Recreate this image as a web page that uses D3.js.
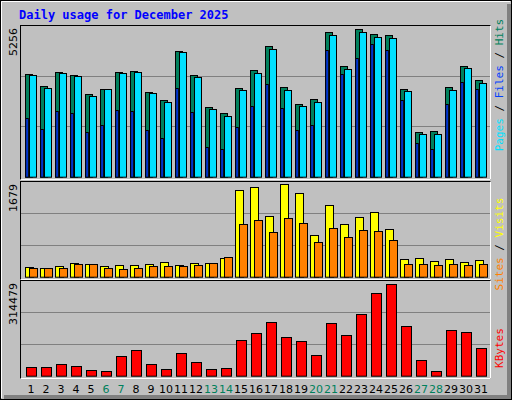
<!DOCTYPE html><html><head><meta charset="utf-8">
<script src="https://cdn.jsdelivr.net/npm/d3@7"></script>
<style>body{margin:0;background:#fff}svg{display:block}text{font-family:"DejaVu Sans",sans-serif}</style></head><body>
<svg id="c" width="512" height="400"></svg>
<script>
const days=d3.range(1,32);
const weekend=[6,7,13,14,20,21,27,28];
const hits=[3650,3222,3734,3615,2937,3115,3734,3769,3008,2735,4471,3615,2473,2259,3151,3793,4649,3187,2580,2759,5149,3936,5256,5077,5041,3115,1581,1617,3187,3936,3436];
const files=[3615,3151,3686,3579,2866,3115,3686,3722,2973,2652,4435,3543,2402,2152,3080,3686,4542,3080,2509,2652,5041,3829,5149,4970,4935,3044,1510,1510,3080,3864,3329];
const pages=[2093,1700,2342,2259,1593,1843,2378,2342,1665,1379,3163,2307,1058,987,1772,2521,3294,2449,1665,1843,4506,3650,4221,4732,4506,2723,1189,975,2580,3365,3115];
const visits=[170,152,188,242,224,188,206,206,224,261,206,242,242,333,1570,1624,1097,1679,1515,752,1297,952,1079,1170,861,315,333,279,315,261,297];
const sites=[152,152,152,224,224,152,133,152,188,188,188,206,242,352,952,1024,806,1061,970,624,879,715,842,824,661,224,224,206,224,206,224];
const kbytes=[28693,28693,39022,32136,18363,14920,66567,87225,39022,21806,76896,45908,21806,25249,121656,145758,183632,131986,118213,70010,180189,138872,211177,283482,314479,169860,52794,14920,156087,149201,94111];
const maxHits=5256,maxVisits=1679,maxKb=314479;

const svg=d3.select("#c");
svg.append("rect").attr("x",0.5).attr("y",0.5).attr("width",511).attr("height",399).attr("fill","#c0c0c0").attr("stroke","#000");
svg.append("path").attr("d","M1.5,398 V1.5 H510").attr("stroke","#fff").attr("fill","none").attr("stroke-width",1);
svg.append("rect").attr("x",507).attr("y",4).attr("width",4).attr("height",395).attr("fill","#808080");
svg.append("rect").attr("x",4).attr("y",395).attr("width",507).attr("height",4).attr("fill","#808080");
svg.append("text").attr("x",19).attr("y",19).text("Daily usage for December 2025")
 .attr("font-family","DejaVu Sans Mono").attr("font-weight","bold").attr("font-size",12).attr("fill","#0000ff").style("font-family","'DejaVu Sans Mono',monospace");

const x=d3.scaleLinear().domain([1,2]).range([25,40]);
function panel(y0,y1,base,top,max){
  svg.append("rect").attr("x",20.5).attr("y",y0+0.5).attr("width",470).attr("height",y1-y0).attr("fill","#c0c0c0").attr("stroke","#000");
  svg.append("path").attr("d",`M20.5,${y1+0.5} H490.5 V${y0+0.5}`).attr("stroke","#fff").attr("fill","none");
  const y=d3.scaleLinear().domain([0,max]).range([base,top]);
  [1/3,2/3].forEach(f=>svg.append("line").attr("x1",21).attr("x2",490).attr("y1",Math.round(base-(base-y0)*f)+0.5).attr("y2",Math.round(base-(base-y0)*f)+0.5).attr("stroke","#808080"));
  svg.append("text").attr("transform",`translate(17,${y0+3}) rotate(-90)`).attr("text-anchor","end").attr("font-size",11).attr("fill","#000").text(max);
  return y;
}
function bars(vals,y,off,w,col){
  svg.append("g").selectAll("rect").data(vals).join("rect")
   .attr("x",(d,i)=>x(i+1)+off+0.5).attr("y",d=>Math.round(y(d))+0.5)
   .attr("width",w).attr("height",d=>Math.max(0,y(0)-Math.round(y(d))))
   .attr("fill",col).attr("stroke","#000");
}
const y1=panel(25,179,176.7,29.3,maxHits);
bars(hits,y1,0,7,"#00805c");
bars(files,y1,4,7,"#00e0ff");
bars(pages,y1,0.3,2.5,"#0040ff");
const y2=panel(181,279,276.7,184.3,maxVisits);
bars(visits,y2,0,8,"#ffff00");
bars(sites,y2,4,8,"#ff8000");
const y3=panel(280,378,375.7,284.3,maxKb);
bars(kbytes,y3,1,10,"#ff0000");

svg.append("g").selectAll("text").data(days).join("text")
 .attr("x",d=>x(d)+6).attr("y",393).attr("text-anchor","middle").attr("font-size",11)
 .attr("fill",d=>weekend.includes(d)?"#00805c":"#000").text(d=>d);

function rlabel(cy,parts){
  const t=svg.append("text").attr("transform",`translate(503,${cy}) rotate(90)`).attr("text-anchor","middle")
   .attr("font-size",11).style("font-family","'DejaVu Sans Mono',monospace");
  parts.forEach(p=>t.append("tspan").attr("fill",p[1]).text(p[0]));
}
function rlabelUp(cy,parts){
  const t=svg.append("text").attr("transform",`translate(503,${cy}) rotate(-90)`).attr("text-anchor","middle")
   .attr("font-size",11).style("font-family","'DejaVu Sans Mono',monospace");
  parts.forEach(p=>t.append("tspan").attr("fill",p[1]).text(p[0]));
}
rlabelUp(85,[["Pages","#00e0ff"],[" / ","#000"],["Files","#0040ff"],[" / ","#000"],["Hits","#00805c"]]);
rlabelUp(244,[["Sites","#ff8000"],[" / ","#000"],["Visits","#ffff00"]]);
rlabelUp(348,[["KBytes","#ff0000"]]);
</script></body></html>
